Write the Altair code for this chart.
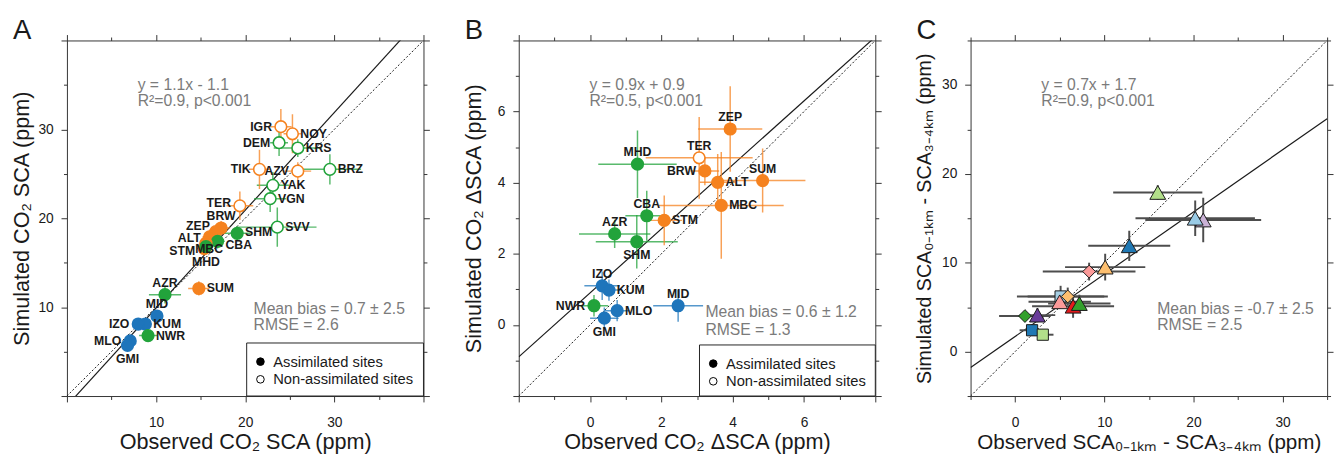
import json
import numpy as np
import pandas as pd
import altair as alt

FONT = "Liberation Sans"
INK = "#1a1a1a"
GRAY = "#7b7b7b"
COLORS = {"o": "#f5821f", "g": "#22a33b", "b": "#1e75bb"}
W, H = 363, 362

# ---------------- Panel A : CO2 SCA ----------------
a_site = ["IGR", "NOY", "DEM", "KRS", "TIK", "AZV", "BRZ", "YAK", "VGN", "TER", "SVV",
          "BRW", "ZEP", "ALT", "SHM", "CBA", "STM", "MBC", "MHD", "AZR", "SUM",
          "MID", "KUM", "IZO", "NWR", "MLO", "GMI"]
a_obs = [24.0, 25.3, 23.8, 25.9, 21.6, 25.9, 29.5, 23.1, 22.8, 19.4, 23.6,
         17.3, 16.7, 16.0, 19.1, 16.9, 15.6, 15.4, 15.6, 11.0, 14.8,
         10.1, 8.8, 8.0, 9.1, 7.1, 6.8]
a_sim = [30.3, 29.5, 28.5, 27.9, 25.5, 25.3, 25.5, 23.7, 22.2, 21.4, 19.0,
         18.9, 18.5, 17.9, 18.3, 17.4, 17.2, 16.6, 16.8, 11.4, 12.1,
         9.0, 8.1, 8.1, 6.8, 6.2, 5.7]
a_obs_err = [1.2, 1.0, 1.0, 2.7, 1.2, 1.5, 3.5, 1.8, 1.8, 1.5, 4.4,
             1.0, 0.8, 0.8, 1.5, 0.8, 0.8, 0.8, 0.8, 1.8, 1.2,
             0.6, 0.5, 0.5, 1.0, 0.5, 0.5]
a_sim_err = [2.0, 2.2, 1.5, 1.0, 2.2, 1.0, 1.7, 1.5, 1.5, 1.6, 2.2,
             0.8, 0.8, 0.8, 0.8, 0.8, 0.8, 0.8, 0.8, 1.0, 0.8,
             0.6, 0.5, 0.5, 0.5, 0.5, 0.5]
a_region = ["o", "o", "g", "g", "o", "o", "g", "g", "g", "o", "g",
            "o", "o", "o", "g", "g", "o", "o", "g", "g", "o",
            "b", "b", "b", "g", "b", "b"]
a_assim = [0] * 11 + [1] * 16
a_fit = (1.1, -1.1)

# ---------------- Panel B : CO2 delta SCA ----------------
b_site = ["ZEP", "TER", "MHD", "BRW", "ALT", "SUM", "MBC", "CBA", "STM", "AZR", "SHM",
          "IZO", "KUM", "NWR", "MID", "MLO", "GMI"]
b_obs = [3.93, 3.06, 1.33, 3.22, 3.58, 4.84, 3.68, 1.59, 2.08, 0.69, 1.31,
         0.34, 0.53, 0.11, 2.47, 0.76, 0.40]
b_sim = [5.51, 4.70, 4.52, 4.33, 4.01, 4.06, 3.36, 3.07, 2.94, 2.56, 2.34,
         1.10, 0.98, 0.54, 0.54, 0.40, 0.19]
b_obs_err = [0.9, 1.5, 1.1, 0.4, 0.5, 1.2, 1.75, 0.6, 0.5, 1.0, 1.15,
             0.5, 0.3, 0.4, 0.7, 0.35, 0.4]
b_sim_err = [1.2, 1.15, 0.95, 0.4, 0.8, 0.9, 1.5, 0.7, 0.7, 0.4, 0.75,
             0.4, 0.3, 0.3, 0.45, 0.3, 0.3]
b_region = ["o", "o", "g", "o", "o", "o", "o", "g", "o", "g", "g",
            "b", "b", "g", "b", "b", "b"]
b_assim = [1, 0, 1, 1, 1, 1, 1, 1, 1, 1, 1, 1, 1, 1, 1, 1, 1]
b_fit = (0.9, 0.9)

# ---------------- Panel C : vertical gradient ----------------
c_obs = [16.0, 21.1, 20.2, 12.8, 8.3, 10.1, 5.1, 5.9, 5.0, 6.5, 7.2, 1.1, 2.5, 1.9, 3.1]
c_sim = [17.9, 14.8, 15.0, 11.9, 9.0, 9.5, 6.2, 6.2, 5.6, 5.1, 5.4, 4.0, 4.1, 2.4, 1.9]
c_obs_err = [5.0, 6.5, 6.7, 4.6, 5.2, 4.5, 4.9, 4.5, 3.5, 4.6, 3.5, 2.9, 2.0, 1.4, 1.2]
c_sim_err = [0.8, 2.5, 2.0, 1.7, 1.0, 1.5, 1.2, 1.0, 0.8, 1.3, 1.0, 0.6, 0.8, 0.6, 0.6]
c_color = ["#b2df8a", "#cab2d6", "#99cbe6", "#1f78b4", "#fb9a99", "#fdbf6f", "#a6cee3",
           "#fdbf6f", "#fb9a99", "#e31a1c", "#33a02c", "#33a02c", "#6a3d9a", "#1f78b4", "#b2df8a"]
c_shape = ["triangle-up", "triangle-up", "triangle-up", "triangle-up", "diamond", "triangle-up",
           "square", "diamond", "triangle-up", "triangle-up", "triangle-up", "diamond",
           "triangle-up", "square", "square"]
c_fit = (0.7, 1.7)

legend_items = ["Assimilated sites", "Non-assimilated sites"]

# label placement (style)
a_place = {"IGR": "L", "NOY": "R", "DEM": "L", "KRS": "R", "TIK": "L", "AZV": "L", "BRZ": "R",
           "YAK": "R", "VGN": "R", "TER": "LU3", "SVV": "R", "BRW": "T", "ZEP": "LU", "ALT": "LA",
           "SHM": "RU", "CBA": "RD", "STM": "LD", "MBC": "S", "MHD": "B2", "AZR": "T", "SUM": "R",
           "MID": "T", "KUM": "R", "IZO": "L", "NWR": "R", "MLO": "L", "GMI": "B"}
b_place = {"ZEP": "T", "TER": "T", "MHD": "T", "BRW": "L", "ALT": "R", "SUM": "T", "MBC": "R",
           "CBA": "T", "STM": "R", "AZR": "T", "SHM": "B", "IZO": "T", "KUM": "R", "NWR": "L",
           "MID": "T", "MLO": "R", "GMI": "B"}
OFFS = {"L": (-9, 0), "LU3": (-9, -3), "LU": (-6, -6), "LA": (-9, 1), "LD": (-11, 8),
        "R": (8, 0), "RU": (8, -1), "RD": (8, 4), "T": (0, -12), "B": (0, 14), "B2": (0, 16),
        "S": (5, 1)}
ALIGN = {"L": "right", "LU3": "right", "LU": "right", "LA": "right", "LD": "right",
         "R": "left", "RU": "left", "RD": "left", "T": "center", "B": "center",
         "B2": "center", "S": "center"}
SHAPE_SIZE = {"triangle-up": 260, "diamond": 170, "square": 130}


def ticks(lo, hi, step):
    out, v = [], lo
    while v <= hi + 1e-9:
        out.append(round(v, 6))
        v += step
    return out


def mk_axis(orient, dom, step, major, labelled, title=None, labels=True,
            label_pad=5, title_pad=0, title_size=22):
    kw = dict(orient=orient, values=ticks(dom[0], dom[1], step), grid=False,
              tickSize={"condition": {"test": f"datum.value % {major} === 0", "value": 6},
                        "value": 3.5},
              labelOverlap=False, labelFlush=False)
    if labels:
        kw.update(labelExpr=f"indexof({json.dumps(labelled)}, datum.value) >= 0 ? datum.label : ''",
                  labelPadding=label_pad, title=title, titlePadding=title_pad,
                  titleFontSize=title_size)
    else:
        kw.update(labels=False, title=None)
    return alt.Axis(**kw)


def text_at(text, x, y, size=16, color=GRAY, weight="normal", baseline="alphabetic"):
    return alt.Chart(pd.DataFrame({"t": [text]})).mark_text(
        align="left", baseline=baseline, fontSize=size, font=FONT, color=color,
        fontWeight=weight).encode(x=alt.value(x), y=alt.value(y), text="t:N")


def legend_layers(x0, y0):
    box = alt.Chart(pd.DataFrame({"k": [0]})).mark_rect(
        fill="white", stroke="#222", strokeWidth=1).encode(
        x=alt.value(x0), x2=alt.value(W), y=alt.value(y0), y2=alt.value(H))
    out = [box]
    for i, (lab, filled) in enumerate(zip(legend_items, [True, False])):
        yy = y0 + 19 + 18 * i
        out.append(alt.Chart(pd.DataFrame({"k": [lab]})).mark_point(
            shape="circle", size=60, filled=True, fill="black" if filled else "white",
            stroke="black", strokeWidth=1, opacity=1).encode(x=alt.value(x0 + 14), y=alt.value(yy)))
        out.append(text_at(lab, x0 + 27, yy, size=15, color=INK, baseline="middle"))
    return out


def base_layers(dom, step, major, labelled, xtitle, ytitle, ytp, fit, sx, sy,
                xsize=22, ysize=22):
    line_df = pd.DataFrame({"x": dom, "fit": [fit[0] * v + fit[1] for v in dom], "one": dom})
    solid = alt.Chart(line_df).mark_line(color=INK, strokeWidth=1.2, clip=True).encode(
        x=alt.X("x:Q", scale=sx, axis=mk_axis("bottom", dom, step, major, labelled, xtitle,
                                               label_pad=14, title_pad=2, title_size=xsize)),
        y=alt.Y("fit:Q", scale=sy, axis=mk_axis("left", dom, step, major, labelled, ytitle,
                                                 label_pad=8, title_pad=ytp, title_size=ysize)))
    dotted = alt.Chart(line_df).mark_line(color=INK, strokeWidth=1, strokeDash=[2, 2],
                                          clip=True).encode(
        x=alt.X("x:Q", scale=sx, axis=mk_axis("top", dom, step, major, labelled, labels=False)),
        y=alt.Y("one:Q", scale=sy, axis=mk_axis("right", dom, step, major, labelled, labels=False)))
    return [solid, dotted]


def sites_panel(site, obs, sim, oerr, serr, region, assim, place, dom, step, major, labelled,
                xtitle, ytitle, ytp, fit, eq, stats, stat_y, letter, leg_xy):
    span = dom[1] - dom[0]
    df = pd.DataFrame({"site": site, "obs": obs, "sim": sim, "oerr": oerr, "serr": serr,
                       "region": region, "assim": assim})
    df["color"] = df["region"].map(COLORS)
    df["fillc"] = np.where(df["assim"] == 1, df["color"], "white")
    df["xlo"], df["xhi"] = df["obs"] - df["oerr"], df["obs"] + df["oerr"]
    df["ylo"], df["yhi"] = df["sim"] - df["serr"], df["sim"] + df["serr"]
    pl = df["site"].map(place)
    df["lx"] = df["obs"] + pl.map(lambda p: OFFS[p][0]) * span / W
    df["ly"] = df["sim"] - pl.map(lambda p: OFFS[p][1]) * span / H
    df["align"] = pl.map(ALIGN)

    sx = alt.Scale(domain=dom, nice=False, zero=False)
    sy = alt.Scale(domain=dom, nice=False, zero=False)
    X = lambda f: alt.X(f, type="quantitative", scale=sx, axis=None)
    Y = lambda f: alt.Y(f, type="quantitative", scale=sy, axis=None)
    base = alt.Chart(df)

    errx = base.mark_rule(strokeWidth=1.5, opacity=0.75, clip=True).encode(
        x=X("xlo"), x2="xhi:Q", y=Y("sim"), color=alt.Color("color:N", scale=None))
    erry = base.mark_rule(strokeWidth=1.5, opacity=0.75, clip=True).encode(
        x=X("obs"), y=Y("ylo"), y2="yhi:Q", color=alt.Color("color:N", scale=None))
    pts = base.mark_point(shape="circle", size=140, filled=True, strokeWidth=1.6, opacity=1).encode(
        x=X("obs"), y=Y("sim"),
        fill=alt.Fill("fillc:N", scale=None),
        stroke=alt.Stroke("color:N", scale=None))
    labels = [base.transform_filter(alt.datum.align == a).mark_text(
        align=a, baseline="middle", fontSize=12.5, fontWeight="bold", font=FONT, color=INK).encode(
        x=X("lx"), y=Y("ly"), text="site:N") for a in ["left", "right", "center"]]

    layers = base_layers(dom, step, major, labelled, xtitle, ytitle, ytp, fit, sx, sy)
    layers += [errx, erry, pts] + labels
    layers += [text_at(eq[0], 72, 50), text_at(eq[1], 72, 67),
               text_at(stats[0], 190, stat_y[0]), text_at(stats[1], 190, stat_y[1]),
               text_at(letter, -55, -2, size=28, color=INK)]
    layers += legend_layers(*leg_xy)
    return alt.layer(*layers).resolve_axis(x="independent", y="independent").properties(
        width=W, height=H)


def gradient_panel():
    dom = [-5, 35]
    df = pd.DataFrame({"obs": c_obs, "sim": c_sim, "oerr": c_obs_err, "serr": c_sim_err,
                       "color": c_color, "shape": c_shape})
    df["size"] = df["shape"].map(SHAPE_SIZE)
    df["xlo"], df["xhi"] = df["obs"] - df["oerr"], df["obs"] + df["oerr"]
    df["ylo"], df["yhi"] = df["sim"] - df["serr"], df["sim"] + df["serr"]
    sx = alt.Scale(domain=dom, nice=False, zero=False)
    sy = alt.Scale(domain=dom, nice=False, zero=False)
    X = lambda f: alt.X(f, type="quantitative", scale=sx, axis=None)
    Y = lambda f: alt.Y(f, type="quantitative", scale=sy, axis=None)
    base = alt.Chart(df)
    errx = base.mark_rule(strokeWidth=2, color="#4d4d4d", clip=True).encode(
        x=X("xlo"), x2="xhi:Q", y=Y("sim"))
    erry = base.mark_rule(strokeWidth=2, color="#4d4d4d", clip=True).encode(
        x=X("obs"), y=Y("ylo"), y2="yhi:Q")
    pts = base.mark_point(filled=True, stroke=INK, strokeWidth=1, opacity=1).encode(
        x=X("obs"), y=Y("sim"),
        fill=alt.Fill("color:N", scale=None),
        shape=alt.Shape("shape:N", scale=None),
        size=alt.Size("size:Q", scale=None))
    layers = base_layers(dom, 5, 10, [0, 10, 20, 30],
                         "Observed SCA₀₋₁ₖₘ - SCA₃₋₄ₖₘ (ppm)",
                         "Simulated SCA₀₋₁ₖₘ - SCA₃₋₄ₖₘ (ppm)", 7, c_fit, sx, sy,
                         xsize=21, ysize=20)
    layers += [errx, erry, pts,
               text_at("y = 0.7x + 1.7", 72, 50), text_at("R²=0.9, p<0.001", 72, 67),
               text_at("Mean bias = -0.7 ± 2.5", 190, 278), text_at("RMSE = 2.5", 190, 295),
               text_at("C", -55, -2, size=28, color=INK)]
    return alt.layer(*layers).resolve_axis(x="independent", y="independent").properties(
        width=W, height=H)


panel_a = sites_panel(a_site, a_obs, a_sim, a_obs_err, a_sim_err, a_region, a_assim, a_place,
                      [0, 40], 5, 10, [10, 20, 30],
                      "Observed CO₂ SCA (ppm)", "Simulated CO₂ SCA (ppm)", 5, a_fit,
                      ("y = 1.1x - 1.1", "R²=0.9, p<0.001"),
                      ("Mean bias = 0.7 ± 2.5", "RMSE = 2.6"), (278, 295), "A", (183, 308))
panel_b = sites_panel(b_site, b_obs, b_sim, b_obs_err, b_sim_err, b_region, b_assim, b_place,
                      [-2, 8], 1, 2, [0, 2, 4, 6],
                      "Observed CO₂ ΔSCA (ppm)", "Simulated CO₂ ΔSCA (ppm)", 12, b_fit,
                      ("y = 0.9x + 0.9", "R²=0.5, p<0.001"),
                      ("Mean bias = 0.6 ± 1.2", "RMSE = 1.3"), (282, 300), "B", (184, 310))
panel_c = gradient_panel()

chart = alt.hconcat(panel_a, panel_b, panel_c, spacing=33).properties(
    padding={"left": 2, "top": 5, "right": 0, "bottom": 0}
).configure_view(stroke=None).configure_axis(
    domainColor="#333", tickColor="#333", labelColor=INK, labelFont=FONT, labelFontSize=14,
    titleFont=FONT, titleFontWeight="normal", titleColor=INK,
    domainWidth=1, tickWidth=1
)

chart.save("out.html", embed_options={"renderer": "svg", "actions": False})
